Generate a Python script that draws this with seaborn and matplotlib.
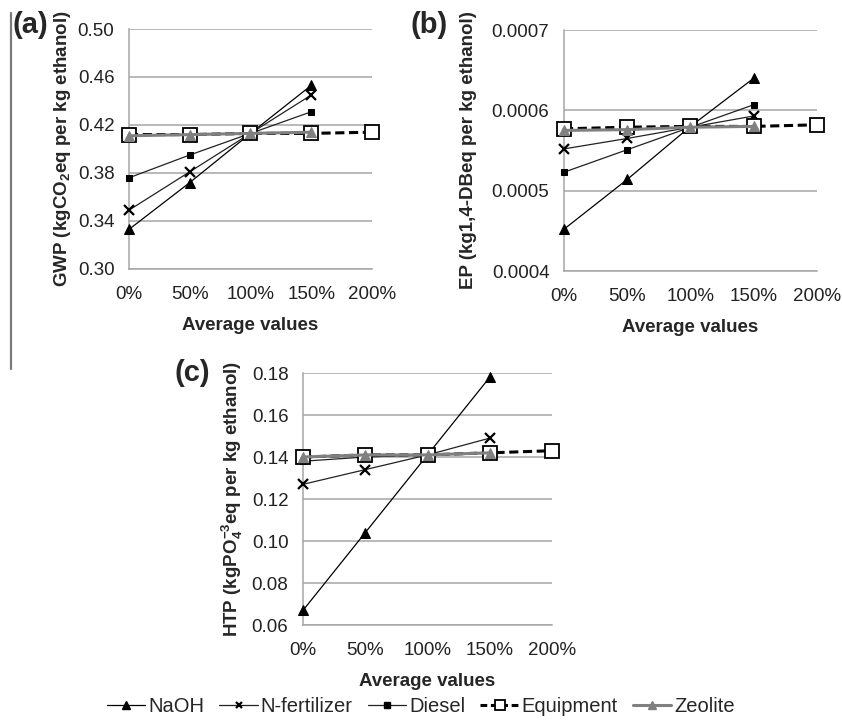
import matplotlib
matplotlib.use("Agg")
import matplotlib.pyplot as plt
import seaborn as sns
from matplotlib.lines import Line2D

# ===============================
# Data
# ===============================
levels = [0, 50, 100, 150]
levels_equip = [0, 50, 100, 150, 200]
tick_labels = ["0%", "50%", "100%", "150%", "200%"]

# (a) GWP
gwp_naoh = [0.333, 0.372, 0.413, 0.453]
gwp_nfert = [0.349, 0.381, 0.413, 0.445]
gwp_diesel = [0.376, 0.395, 0.413, 0.431]
gwp_equip = [0.412, 0.412, 0.413, 0.413, 0.414]
gwp_zeolite = [0.411, 0.412, 0.413, 0.414]

# (b) EP
ep_naoh = [0.000452, 0.000514, 0.000580, 0.000640]
ep_nfert = [0.000552, 0.000565, 0.000579, 0.000593]
ep_diesel = [0.000523, 0.000551, 0.000579, 0.000607]
ep_equip = [0.000577, 0.000579, 0.000580, 0.000580, 0.000582]
ep_zeolite = [0.000575, 0.000576, 0.000579, 0.000580]

# (c) HTP
htp_naoh = [0.067, 0.104, 0.141, 0.178]
htp_nfert = [0.127, 0.134, 0.141, 0.149]
htp_diesel = [0.138, 0.140, 0.141, 0.142]
htp_equip = [0.140, 0.141, 0.141, 0.142, 0.143]
htp_zeolite = [0.140, 0.141, 0.141, 0.142]

series_names = ["NaOH", "N-fertilizer", "Diesel", "Equipment", "Zeolite"]

# ===============================
# Style
# ===============================
sns.set_style("white")
plt.rcParams["font.family"] = ["Liberation Sans", "DejaVu Sans"]
plt.rcParams["mathtext.fontset"] = "custom"
plt.rcParams["mathtext.rm"] = "Liberation Sans:bold"
plt.rcParams["mathtext.default"] = "rm"

styles = {
    "NaOH": dict(color="black", marker="^", markersize=7, linewidth=0.9,
                 linestyle="-", markerfacecolor="black", markeredgecolor="black"),
    "N-fertilizer": dict(color="#222222", marker="x", markersize=6.5, linewidth=0.9,
                         linestyle="-", markeredgewidth=1.6, markeredgecolor="black"),
    "Diesel": dict(color="#222222", marker="s", markersize=5, linewidth=0.9,
                   linestyle="-", markerfacecolor="black", markeredgecolor="black"),
    "Equipment": dict(color="black", marker="s", markersize=9.5, linewidth=2.2,
                      linestyle=(0, (3, 1.5)), markerfacecolor="white",
                      markeredgecolor="black", markeredgewidth=1.3),
    "Zeolite": dict(color="#808080", marker="^", markersize=7.5, linewidth=2.2,
                    linestyle="-", markerfacecolor="#808080", markeredgecolor="#808080"),
}

fig = plt.figure(figsize=(8.42, 7.25), dpi=100)

panels = [
    dict(pos=[0.1532, 0.629, 0.2886, 0.331], label="(a)",
         ylabel=r"GWP (kgCO$_2$eq per kg ethanol)",
         data=[gwp_naoh, gwp_nfert, gwp_diesel, gwp_equip, gwp_zeolite],
         ylim=(0.30, 0.50), yticks=[0.30, 0.34, 0.38, 0.42, 0.46, 0.50], fmt="{:.2f}",
         lab_xy=(0.0145, 0.966), ylab_x=0.074),
    dict(pos=[0.6698, 0.6262, 0.3005, 0.3324], label="(b)",
         ylabel="EP (kg1,4-DBeq per kg ethanol)",
         data=[ep_naoh, ep_nfert, ep_diesel, ep_equip, ep_zeolite],
         ylim=(0.0004, 0.0007), yticks=[0.0004, 0.0005, 0.0006, 0.0007], fmt="{:.4f}",
         lab_xy=(0.488, 0.966), ylab_x=0.556),
    dict(pos=[0.3599, 0.1379, 0.2957, 0.3476], label="(c)",
         ylabel=r"HTP (kgPO$_4^{-3}$eq per kg ethanol)",
         data=[htp_naoh, htp_nfert, htp_diesel, htp_equip, htp_zeolite],
         ylim=(0.06, 0.18), yticks=[0.06, 0.08, 0.10, 0.12, 0.14, 0.16, 0.18], fmt="{:.2f}",
         lab_xy=(0.207, 0.486), ylab_x=0.276),
]

grid_col = "#a6a6a6"

for p in panels:
    ax = fig.add_axes(p["pos"])
    for name, vals in zip(series_names, p["data"]):
        xs = levels_equip if name == "Equipment" else levels
        sns.lineplot(x=xs, y=vals, ax=ax, **styles[name], zorder=3, clip_on=False)
    ax.set_xlim(0, 200)
    ax.set_ylim(*p["ylim"])
    ax.set_xticks(levels_equip)
    ax.set_xticklabels(tick_labels)
    ax.set_yticks(p["yticks"])
    ax.set_yticklabels([p["fmt"].format(v) for v in p["yticks"]])
    ax.tick_params(axis="both", labelsize=13.5, colors="#222222", length=3.5,
                   width=1, color=grid_col, direction="out")
    ax.tick_params(axis="x", pad=9)
    ax.tick_params(axis="y", pad=7)
    ax.yaxis.grid(True, color=grid_col, linewidth=1.1)
    ax.set_axisbelow(True)
    for side in ["top", "right"]:
        ax.spines[side].set_visible(False)
    for side in ["left", "bottom"]:
        ax.spines[side].set_color(grid_col)
        ax.spines[side].set_linewidth(1.1)
    ax.set_xlabel("Average values", fontsize=13.5, fontweight="bold", labelpad=10)
    ax.set_ylabel("")
    fig.text(p["ylab_x"], p["pos"][1] + p["pos"][3] / 2, p["ylabel"], rotation=90,
             fontsize=13.5, fontweight="bold", ha="center", va="center")
    fig.text(p["lab_xy"][0], p["lab_xy"][1], p["label"], fontsize=21,
             fontweight="bold", ha="left", va="center")
    if ax.get_legend() is not None:
        ax.get_legend().remove()

# stray border line at the left edge of the original scan
fig.add_artist(Line2D([0.0135, 0.0135], [0.491, 0.982], color="#7a7a7a", linewidth=1.6))

# legend with the small markers used in the original key
legend_styles = {n: dict(styles[n]) for n in series_names}
legend_styles["NaOH"]["markersize"] = 6
legend_styles["N-fertilizer"]["markersize"] = 5
legend_styles["Diesel"]["markersize"] = 4.5
legend_styles["Equipment"]["markersize"] = 7
legend_styles["Equipment"]["linestyle"] = (0, (2.2, 1.2))
legend_styles["Zeolite"]["markersize"] = 5.5
handles = [Line2D([], [], **legend_styles[n]) for n in series_names]
fig.legend(handles, series_names, loc="center", bbox_to_anchor=(0.5, 0.026), ncol=5,
           frameon=False, fontsize=14.5, handlelength=1.9, handletextpad=0.15,
           columnspacing=0.75)

fig.savefig("out.png", dpi=100)
